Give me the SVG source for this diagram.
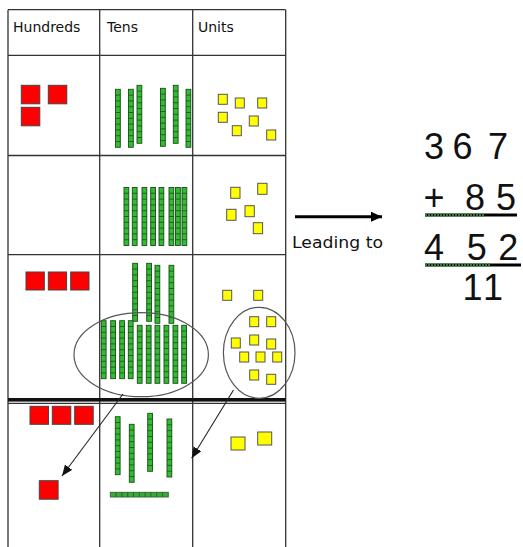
<svg xmlns="http://www.w3.org/2000/svg" xmlns:xlink="http://www.w3.org/1999/xlink" width="523" height="547" viewBox="0 0 523 547">
<style>
.grid{stroke:#333;stroke-width:1.3;fill:none}
.red{fill:#ff0000;stroke:#444;stroke-width:1}
.yel{fill:#ffff00;stroke:#555;stroke-width:1}
.hdr{font-family:"DejaVu Sans",sans-serif;font-size:14px;fill:#111}
.num{font-family:"Liberation Sans",sans-serif;font-size:36px;fill:#111;text-anchor:middle}
.ell{fill:none;stroke:#555;stroke-width:1.2}
.conn{stroke:#222;stroke-width:1.1;fill:none}
</style>
<defs>
<g id="rod">
<rect x="0" y="0" width="4.8" height="58" fill="#33bb33" stroke="#1a4d1a" stroke-width="0.9"/>
<path d="M0 5.8H4.8M0 11.6H4.8M0 17.4H4.8M0 23.2H4.8M0 29H4.8M0 34.8H4.8M0 40.6H4.8M0 46.4H4.8M0 52.2H4.8" stroke="#1a4d1a" stroke-width="0.8"/>
</g>
<g id="hrod">
<rect x="0" y="0" width="58" height="4.7" fill="#3aa83a" stroke="#2a6a2a" stroke-width="0.9"/>
<path d="M5.8 0V4.7M11.6 0V4.7M17.4 0V4.7M23.2 0V4.7M29 0V4.7M34.8 0V4.7M40.6 0V4.7M46.4 0V4.7M52.2 0V4.7" stroke="#1f5a1f" stroke-width="0.8"/>
</g>
<marker id="ah" markerUnits="userSpaceOnUse" markerWidth="12" markerHeight="10" refX="11" refY="4.5" orient="auto">
<path d="M0 0L11 4.5L0 9z" fill="#111"/>
</marker>
<marker id="ahBig" markerUnits="userSpaceOnUse" markerWidth="12" markerHeight="12" refX="11" refY="5" orient="auto">
<path d="M0 0L11 5L0 10z" fill="#000"/>
</marker>
</defs>
<rect width="523" height="547" fill="#fff"/>

<g id="table">
<path class="grid" d="M8 9.7V547M99.7 9.7V547M192.7 9.7V547M285.7 9.7V547M8 9.7H285.7M8 55.3H285.7M8 155.5H285.7M8 254.7H285.7M8 403.4H285.7"/>
<rect x="8" y="398" width="277.7" height="3.6" fill="#111"/>
</g>

<g id="headers">
<text class="hdr" x="13" y="31.7">Hundreds</text>
<text class="hdr" x="107" y="31.7">Tens</text>
<text class="hdr" x="198" y="31.7">Units</text>
</g>

<g id="row1">
<rect class="red" x="21.3" y="85.3" width="18.5" height="18.5"/>
<rect class="red" x="48.3" y="85.3" width="18.5" height="18.5"/>
<rect class="red" x="21.3" y="107.3" width="18.5" height="18.5"/>
<use xlink:href="#rod" x="115.5" y="89.3"/>
<use xlink:href="#rod" x="128.5" y="89.3"/>
<use xlink:href="#rod" x="137" y="85.3"/>
<use xlink:href="#rod" x="160.5" y="88.3"/>
<use xlink:href="#rod" x="173.3" y="85.3"/>
<use xlink:href="#rod" x="186" y="89.3"/>
<rect class="yel" x="218.3" y="94.3" width="9" height="10"/>
<rect class="yel" x="235.3" y="98" width="9" height="10"/>
<rect class="yel" x="257.7" y="98" width="9" height="10"/>
<rect class="yel" x="218.3" y="112.3" width="9" height="10"/>
<rect class="yel" x="249.3" y="116" width="9" height="10"/>
<rect class="yel" x="232.3" y="125.7" width="9" height="10"/>
<rect class="yel" x="266.7" y="130" width="9" height="10"/>
</g>

<g id="row2">
<use xlink:href="#rod" x="124" y="187.5"/>
<use xlink:href="#rod" x="132.3" y="187.5"/>
<use xlink:href="#rod" x="142" y="187.5"/>
<use xlink:href="#rod" x="150.7" y="187.5"/>
<use xlink:href="#rod" x="159" y="187.5"/>
<use xlink:href="#rod" x="169" y="187.5"/>
<use xlink:href="#rod" x="175.5" y="187.5"/>
<use xlink:href="#rod" x="182" y="187.5"/>
<rect class="yel" x="230.7" y="187.3" width="9.3" height="11"/>
<rect class="yel" x="257.7" y="183.3" width="9.3" height="11"/>
<rect class="yel" x="226.7" y="209.3" width="9.3" height="11"/>
<rect class="yel" x="245" y="205.7" width="9.3" height="11"/>
<rect class="yel" x="253.3" y="222.7" width="9.3" height="11"/>
</g>

<g id="row3">
<rect class="red" x="26" y="272" width="18.3" height="18"/>
<rect class="red" x="48.3" y="272" width="18.3" height="18"/>
<rect class="red" x="70.7" y="272" width="18.3" height="18"/>
<use xlink:href="#rod" x="132.7" y="263.3"/>
<use xlink:href="#rod" x="146.7" y="263.3"/>
<use xlink:href="#rod" x="155" y="265.3"/>
<use xlink:href="#rod" x="169" y="265.3"/>
<use xlink:href="#rod" x="101.3" y="320.7"/>
<use xlink:href="#rod" x="110.7" y="320.7"/>
<use xlink:href="#rod" x="119.7" y="320.7"/>
<use xlink:href="#rod" x="128.3" y="320.7"/>
<use xlink:href="#rod" x="137.3" y="325.3"/>
<use xlink:href="#rod" x="146.3" y="325.3"/>
<use xlink:href="#rod" x="155" y="325.3"/>
<use xlink:href="#rod" x="164" y="325.3"/>
<use xlink:href="#rod" x="173" y="325.3"/>
<use xlink:href="#rod" x="181.7" y="325.3"/>
<rect class="yel" x="222.7" y="290.3" width="9" height="10"/>
<rect class="yel" x="253.7" y="290.3" width="9" height="10"/>
<rect class="yel" x="249.7" y="316.7" width="9" height="10"/>
<rect class="yel" x="266.7" y="316.7" width="9" height="10"/>
<rect class="yel" x="231.3" y="338" width="9" height="10"/>
<rect class="yel" x="249.7" y="335" width="9" height="10"/>
<rect class="yel" x="266.7" y="339" width="9" height="10"/>
<rect class="yel" x="239.7" y="352" width="9" height="10"/>
<rect class="yel" x="256" y="352" width="9" height="10"/>
<rect class="yel" x="272.7" y="352" width="9" height="10"/>
<rect class="yel" x="249.7" y="370" width="9" height="10"/>
<rect class="yel" x="266.7" y="374.3" width="9" height="10"/>
<ellipse id="tensGroup" class="ell" cx="141.2" cy="354.7" rx="67.2" ry="42"/>
<ellipse id="unitsGroup" class="ell" cx="259.2" cy="352.8" rx="35.8" ry="45.5"/>
</g>

<g id="row4">
<rect class="red" x="30" y="406.3" width="18.5" height="18"/>
<rect class="red" x="52.3" y="406.3" width="18.5" height="18"/>
<rect class="red" x="74.7" y="406.3" width="18.5" height="18"/>
<rect class="red" x="39.3" y="480.7" width="18.8" height="18.5"/>
<use xlink:href="#rod" x="115.3" y="416.7"/>
<use xlink:href="#rod" x="129.3" y="424.3"/>
<use xlink:href="#rod" x="147.7" y="413.3"/>
<use xlink:href="#rod" x="167" y="419"/>
<use xlink:href="#hrod" x="110.3" y="492.3"/>
<rect class="yel" x="231" y="437" width="14" height="13"/>
<rect class="yel" x="257.7" y="432" width="14" height="13"/>
</g>

<g id="connectors">
<line class="conn" x1="123" y1="394" x2="62" y2="476" marker-end="url(#ah)"/>
<line class="conn" x1="233.5" y1="390" x2="191.7" y2="458.3" marker-end="url(#ah)"/>
<line x1="295" y1="216.7" x2="382" y2="216.7" stroke="#000" stroke-width="3" marker-end="url(#ahBig)"/>
</g>

<g id="leading">
<text x="292" y="248.3" font-family="DejaVu Sans, sans-serif" font-size="16.5" fill="#111" textLength="91" lengthAdjust="spacingAndGlyphs">Leading to</text>
</g>

<g id="sum">
<text class="num" x="434" y="159.3">3</text>
<text class="num" x="462.5" y="159.3">6</text>
<text class="num" x="498" y="159.3">7</text>
<text class="num" x="434" y="210">+</text>
<text class="num" x="475" y="210">8</text>
<text class="num" x="506" y="210">5</text>
<line x1="425" y1="215" x2="517" y2="215" stroke="#000" stroke-width="3"/>
<line x1="425" y1="215" x2="485" y2="215" stroke="#2e7d32" stroke-width="3" stroke-dasharray="2 1"/>
<text class="num" x="434" y="260">4</text>
<text class="num" x="476.7" y="260">5</text>
<text class="num" x="508.3" y="260">2</text>
<line x1="425" y1="265" x2="521" y2="265" stroke="#000" stroke-width="3"/>
<line x1="425" y1="265" x2="490" y2="265" stroke="#2e7d32" stroke-width="3" stroke-dasharray="2 1"/>
<text class="num" x="472.5" y="300" font-size="26">1</text>
<text class="num" x="493" y="300" font-size="26">1</text>
</g>
</svg>
